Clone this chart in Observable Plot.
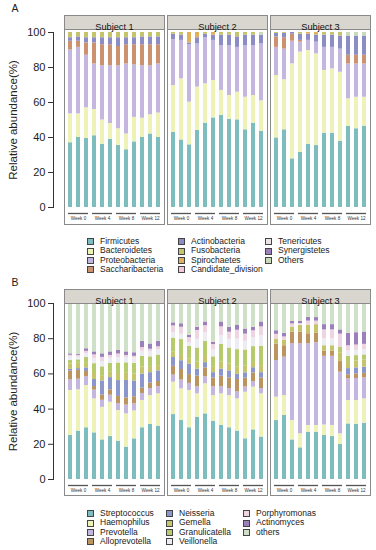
<!DOCTYPE html>
<html><head><meta charset="utf-8">
<script src="https://cdn.jsdelivr.net/npm/d3@7"></script>
<script src="https://cdn.jsdelivr.net/npm/@observablehq/plot@0.6"></script>
<style>
body{margin:0;background:#fff;font-family:"Liberation Sans",Arial,sans-serif;}
#root{position:relative;width:376px;height:550px;overflow:hidden;background:#fff;}
.panel{position:absolute;left:0;}
.legend{position:absolute;display:grid;grid-auto-flow:column;grid-template-rows:repeat(4,9.4px);font-size:8.5px;color:#222;line-height:9.4px;}
.item{display:flex;align-items:center;white-space:nowrap;}
.sw{width:5px;height:5px;border:1px solid #444;margin-right:6px;flex:none;}
</style></head><body><div id="root"></div>
<script>
// ---------- categories / ticks ----------
const subjects = ["Subject 1", "Subject 2", "Subject 3"];
const samples = ["s1","s2","s3","s4","s5","s6","s7","s8","s9","s10","s11","s12"];
const weeks = ["Week 0", "Week 4", "Week 8", "Week 12"];
const weekFirst = ["s1", "s4", "s7", "s10"];
const weekMid = ["s2", "s5", "s8", "s11"];
const weekLast = ["s3", "s6", "s9", "s12"];
const yTicks = [0, 20, 40, 60, 80, 100];

// ---------- panel A: phyla ----------
const phyla = ["Firmicutes","Bacteroidetes","Proteobacteria","Saccharibacteria","Actinobacteria","Fusobacteria","Spirochaetes","Candidate_division","Tenericutes","Synergistetes","Others"];
const phylaColors = ["#7EBDBD","#EFF2B6","#C4B6DE","#CC9270","#8C8DC6","#C4C46A","#E0B05A","#F0C8DC","#EDE2E8","#9C80BA","#C8DAB8"];
// 36 values each: Subject 1 (12 bars), Subject 2 (12), Subject 3 (12)
const firmicutes = [37,40,39.5,41,36,39,35.5,33,37.5,40,42,40, 43,38.6,35.8,44,48.2,51.2,52.6,50.3,50.1,44.4,48.2,43.6, 39.8,44.4,27.8,31.6,36,35.4,42.5,42.5,37.9,46.3,45,46.5];
const bacteroidetes = [16.5,13.5,17.5,15,14,9,9.5,9,14,11,11,14, 26.7,34.9,24.4,24.8,22.5,21.4,14.3,13.7,15.8,18.6,15.8,17.4, 35.6,28.6,54.3,57.2,53.7,52.4,35.8,36.7,39.4,15.8,18,16.5];
const proteobacteria = [36.5,38,30,26,31,33,36,40,30,30,28,28, 26.3,22,32.8,24.7,26.3,22.9,25.6,28.5,25.6,29.5,28.5,32.5, 16.1,17.5,12.9,5.7,5.8,6.7,13.2,12.3,13.2,19.9,19,19];
const saccharibacteria = [5,3.5,7,12,12,12,11,11,11.5,12,12,11, 0,0,0,0,0,0,0,0,0,0,0,0, 6,6.5,4,1,0,0,0,0,0,5,5,5];
const actinobacteria = [2,2.5,3,3,4,4,5,4,4,4.5,4.5,4.5, 3,3,1,3.5,2,3,6,6,6,6,6,5, 2,2.5,1,3.5,3.5,4,7,7,7.5,11,11,11];
const fusobacteria = [3,2.5,3,3,3,3,3,3,3,2.5,2.5,2.5, 1,1.5,0,0,1,0,1.5,1.5,2.5,1.5,1.5,0, 0.5,0.5,0,1,0,0,1.5,1.5,2,0,0,0];
const spirochaetes = [0,0,0,0,0,0,0,0,0,0,0,0, 0,0,6,3,0,1.5,0,0,0,0,0,0, 0,0,0,0,1,1.5,0,0,0,0,0,0];
const candidateDivision = [0,0,0,0,0,0,0,0,0,0,0,0, 0,0,0,0,0,0,0,0,0,0,0,0, 0,0,0,0,0,0,0,0,0,0,0,0];
const tenericutes = [0,0,0,0,0,0,0,0,0,0,0,0, 0,0,0,0,0,0,0,0,0,0,0,0, 0,0,0,0,0,0,0,0,0,0,0,0];
const synergistetes = [0,0,0,0,0,0,0,0,0,0,0,0, 0,0,0,0,0,0,0,0,0,0,0,0, 0,0,0,0,0,0,0,0,0,0,0,0];
const othersA = [0,0,0,0,0,0,0,0,0,0,0,0, 0,0,0,0,0,0,0,0,0,0,0,1.5, 0,0,0,0,0,0,0,0,0,2,2,2];

// ---------- panel B: genera ----------
const genera = ["Streptococcus","Haemophilus","Prevotella","Alloprevotella","Neisseria","Gemella","Granulicatella","Veillonella","Porphyromonas","Actinomyces","others"];
const generaColors = ["#7EBDBD","#EFF2B6","#C4B6DE","#BC9460","#8A96CC","#C4C46A","#B6CC6C","#ECECF4","#EFD5E2","#9C80BA","#CFE0C8"];
const streptococcus = [25,27.5,29.4,26.5,22.5,24.4,21.8,18.4,23.1,29.4,31.3,30.3, 36.9,33.5,29.4,35.4,37.3,33.1,30.7,29.4,27.5,23.1,28.2,24.1, 33.5,36.4,22.5,18,26.9,26.9,25,24.4,19.9,31.6,31.3,32];
const haemophilus = [25.6,23.5,24,19.3,18.5,19.5,17.4,18.9,15.9,15.5,16.4,18.4, 18.4,18,21.2,13.3,17.1,14.6,18,18.3,18.3,26.5,24.3,24.6, 13.3,11.3,11,8,3.8,3.8,6,6.3,6.1,13.3,13.6,13.8];
const prevotella = [6,6,5,5,4,4,4,5,4,4,4,4, 4,5,4,4,4,5,4,4,4,3,3,3, 20.8,21.8,43.6,51.1,46.4,47,39,39.3,35,12.3,12.5,12];
const alloprevotella = [5,5,3,2,3,3,4,4,4,3,3,3, 5,6,5,6,5,5,6,6,7,5,5,6, 9.4,6.5,6.6,6.6,5.7,5.5,3,3,6,2.3,2.5,2.5];
const neisseria = [1,1,2,4,8,7,9,10,9,8,6,6, 5,5,6,4,3,3,4,4,3,3,3,3, 0,0,0,0,0,0,0,0,0,3.5,3.5,3.5];
const gemella = [3,3,3,4,3,3,4,4,4,4,3,3, 3,3,3,4,4,3,4,4,4,4,3,4, 2.8,3,2.9,3.8,4.7,4.8,3,3,5,4,4,4];
const granulicatella = [2,2,3,5,5,5,6,6,6,6,6,6, 8,9,7,8,8,6,10,9,10,9,9,11, 0,0,0,0,0,0,0,0,3,3,3,3];
const veillonella = [2,1.5,2,3,3,3,3,3,3,3,3,3, 3,3,2,5,5,4,5,5,6,5,5,6, 0,0,0,1,0,0,4,4,0,3,3,3];
const porphyromonas = [1,1,1.4,2,2.4,1.6,2.1,1.2,1,2,1.3,1.7, 4,4,3,5,4,3,5,4,5,4,4,5, 2.7,2,1.8,0,2.5,2,5,5,7.6,3,3,3];
const actinomyces = [0.8,0.5,1.5,1.7,2,2,2,2,2,3.5,3,3, 1.7,2,1.4,1.8,2.1,1.3,2.8,2.8,2.7,2.9,2,2.8, 2,2,1.4,1.3,2.2,2,3,3,2.4,7,7,7];
const othersB = [28.6,29,25.7,27.5,28.6,27.5,26.7,27.5,28,21.6,23,21.6, 11,11.5,18,13.5,10.5,22,10.5,13.5,12.5,14.5,13.5,10.5, 15.5,17,10.2,10.2,7.8,8,12,12,15,17,16.6,16.2];

const seriesA = [firmicutes,bacteroidetes,proteobacteria,saccharibacteria,actinobacteria,fusobacteria,spirochaetes,candidateDivision,tenericutes,synergistetes,othersA];
const seriesB = [streptococcus,haemophilus,prevotella,alloprevotella,neisseria,gemella,granulicatella,veillonella,porphyromonas,actinomyces,othersB];

const FONT = "'Liberation Sans', Arial, sans-serif";

function longData(cats, series) {
  const rows = [];
  subjects.forEach((s, si) => samples.forEach((smp, j) => cats.forEach((c, ci) =>
    rows.push({subject: s, sample: smp, category: c, value: series[ci][si * 12 + j]}))));
  return rows;
}

function panel({cats, colors, series, letter, zeroPx, fullPx, height, frameBottom}) {
  const top = 15;
  const k = (zeroPx - fullPx) / 100;
  const yDomain = [(zeroPx - frameBottom) / k, (zeroPx - top) / k];
  const rows = longData(cats, series);
  const weekRows = subjects.flatMap(s => weeks.map((w, i) => ({subject: s, week: w, first: weekFirst[i], mid: weekMid[i], last: weekLast[i]})));
  return Plot.plot({
    width: 376, height,
    marginTop: top, marginBottom: height - frameBottom, marginLeft: 63, marginRight: 4,
    style: {fontFamily: FONT, background: "white", overflow: "visible"},
    fx: {domain: subjects, paddingInner: 0.025, paddingOuter: 0, axis: null},
    x: {domain: samples, paddingInner: 0.48, paddingOuter: 0.1, axis: null},
    y: {domain: yDomain, axis: null},
    color: {domain: cats, range: colors},
    marks: [
      Plot.frame({stroke: "#8a8a8a"}),
      Plot.barY(rows, {fx: "subject", x: "sample", y: "value", fill: "category"}),
      Plot.frame({fill: "#D9D5CF", stroke: "#8a8a8a", insetBottom: frameBottom - top - 14}),
      Plot.text(subjects, {fx: d => d, text: d => d, frameAnchor: "top", dy: 7.5, fontSize: 9.2, fill: "#111"}),
      Plot.ruleY(weekRows, {fx: "subject", x1: "first", x2: "last", y: 0, dy: 6, stroke: "#555", strokeWidth: 1.3}),
      Plot.text(weekRows, {fx: "subject", x: "mid", y: 0, dy: 11, text: "week", fontSize: 4.6, fill: "#333"}),
      Plot.axisY({ticks: yTicks, tickSize: 5, tickPadding: 3, dx: -11, fontSize: 11, label: null, stroke: "#333", fill: "#222", facetAnchor: "left"}),
      Plot.frame({anchor: "left", insetTop: fullPx - top, insetBottom: frameBottom - zeroPx, dx: -11, facetAnchor: "left", stroke: "#333"}),
      Plot.text(["Relative abundance(%)"], {fx: () => subjects[0], frameAnchor: "left", textAnchor: "middle", lineAnchor: "middle", rotate: -90, dx: -51, dy: (fullPx + zeroPx) / 2 - (top + frameBottom) / 2, fontSize: 11.5, fill: "#222"}),
      Plot.text([letter], {fx: () => subjects[0], frameAnchor: "top-left", textAnchor: "start", lineAnchor: "middle", dx: -53, dy: -6.5, fontSize: 10.5, fill: "#222"})
    ]
  });
}

function legend(cats, colors, left, top, colWidths) {
  const div = document.createElement("div");
  div.className = "legend";
  div.style.left = left + "px";
  div.style.top = top + "px";
  div.style.gridTemplateColumns = colWidths.map(w => w + "px").join(" ") + " auto";
  cats.forEach((c, i) => {
    const it = document.createElement("div");
    it.className = "item";
    const sw = document.createElement("span");
    sw.className = "sw";
    sw.style.background = colors[i];
    it.appendChild(sw);
    it.appendChild(document.createTextNode(c));
    div.appendChild(it);
  });
  return div;
}

const root = document.getElementById("root");
const a = panel({cats: phyla, colors: phylaColors, series: seriesA, letter: "A", zeroPx: 207, fullPx: 32, height: 228, frameBottom: 224});
a.classList.add("panel"); a.style.top = "0px";
root.appendChild(a);
root.appendChild(legend(phyla, phylaColors, 87, 237, [91, 87]));

const b = panel({cats: genera, colors: generaColors, series: seriesB, letter: "B", zeroPx: 205, fullPx: 29, height: 224, frameBottom: 221});
b.classList.add("panel"); b.style.top = "274px";
root.appendChild(b);
root.appendChild(legend(genera, generaColors, 87, 509, [79, 77]));
</script>
</body></html>
